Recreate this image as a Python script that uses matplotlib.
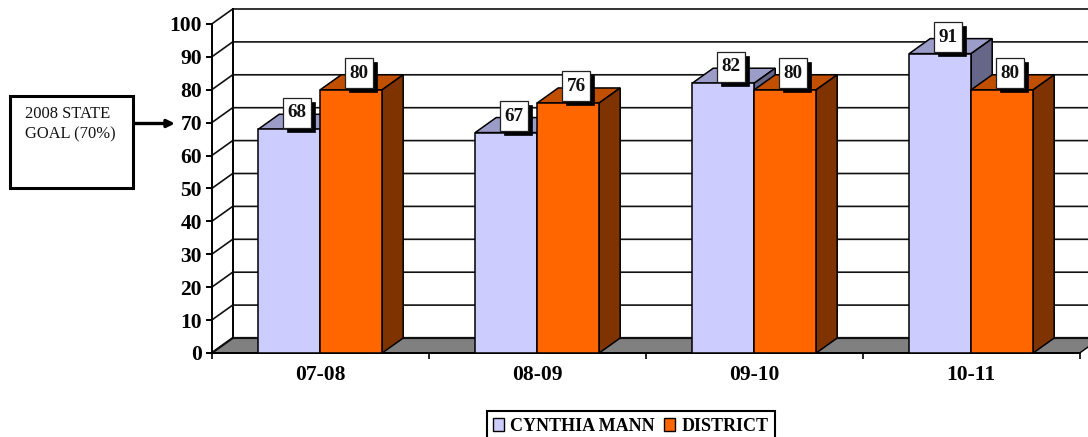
import matplotlib
matplotlib.use('Agg')
import matplotlib.pyplot as plt
from matplotlib.patches import Polygon, Rectangle

plt.rcParams['font.family'] = ['Liberation Serif', 'DejaVu Serif']

years = ['07-08', '08-09', '09-10', '10-11']
series_names = ['CYNTHIA MANN', 'DISTRICT']
cynthia = [68, 67, 82, 91]
district = [80, 76, 80, 80]
yticks = [0, 10, 20, 30, 40, 50, 60, 70, 80, 90, 100]

W, H = 1088, 437
LAV = ['#CCCCFF', '#9C9CC8', '#666688']
ORG = ['#FF6600', '#C04F00', '#7F3300']
xpx = 217  # pixels per category
ypx = 3.29  # pixels per value unit
bw = 62 / xpx
dx = 21 / xpx
dy = 15 / ypx

fig = plt.figure(figsize=(W / 100, H / 100), dpi=100)
ax = fig.add_axes([211.7 / W, 1 - 353 / H, 868 / W, 329 / H])
ax.set_xlim(0, 4)
ax.set_ylim(0, 100)
ax.patch.set_alpha(0)

# floor and back wall
ax.add_patch(Polygon([(0, 0), (dx, dy), (4 + dx, dy), (4, 0)], fc='#808080', ec='black', lw=1, clip_on=False, zorder=1))
for v in yticks:
    ax.plot([0, dx, 4.2], [v, v + dy, v + dy], color='#111111', lw=1.2 if v else 1.6, clip_on=False, zorder=1.5, solid_joinstyle='miter')
ax.plot([dx, dx], [dy, 100 + dy], color='black', lw=1.4, clip_on=False, zorder=1.5)


def bar3d(x, val, cols, z):
    ax.bar(x, val, bw, align='edge', color=cols[0], edgecolor='black', linewidth=1.1, zorder=z + 0.2, clip_on=False)
    ax.add_patch(Polygon([(x, val), (x + dx, val + dy), (x + bw + dx, val + dy), (x + bw, val)],
                         fc=cols[1], ec='black', lw=1.1, clip_on=False, zorder=z))
    ax.add_patch(Polygon([(x + bw, 0), (x + bw + dx, dy), (x + bw + dx, val + dy), (x + bw, val)],
                         fc=cols[2], ec='black', lw=1.1, clip_on=False, zorder=z))


def label(x, val):
    # white value box with a hard black drop shadow, 28x30 px
    bx = x + bw / 2 + (8 - 14) / xpx
    by = val + 1.5 / ypx
    w = 28 / xpx
    h = 30 / ypx
    ax.add_patch(Rectangle((bx + 4 / xpx, by - 4 / ypx), w, h, fc='black', ec='black', lw=0.5, clip_on=False, zorder=10))
    ax.add_patch(Rectangle((bx, by), w, h, fc='white', ec='#222222', lw=0.9, clip_on=False, zorder=11))
    ax.text(bx + w / 2, by + h / 2, str(val), ha='center', va='center', fontsize=13.8, fontweight='bold',
            color='#111111', zorder=12, clip_on=False)


for i in range(len(years)):
    bar3d(i + 0.5 - bw, cynthia[i], LAV, 3 + i)
    bar3d(i + 0.5, district[i], ORG, 3.5 + i)
for i in range(len(years)):
    label(i + 0.5 - bw, cynthia[i])
    label(i + 0.5, district[i])

for s in ['top', 'right']:
    ax.spines[s].set_visible(False)
for s in ['left', 'bottom']:
    ax.spines[s].set_linewidth(1.4)
    ax.spines[s].set_zorder(2)
ax.spines['left'].set_bounds(0, 100)

ax.set_yticks(yticks)
ax.set_yticklabels(yticks, fontsize=15.5, fontweight='bold')
ax.set_xticks([0, 1, 2, 3, 4])
ax.set_xticklabels([])
ax.set_xticks([0.5, 1.5, 2.5, 3.5], minor=True)
ax.set_xticklabels(years, minor=True, fontsize=15.5, fontweight='bold')
ax.tick_params(axis='y', length=4, width=1.4, pad=3, direction='out')
ax.tick_params(axis='x', which='major', length=4, width=1.2)
ax.tick_params(axis='x', which='minor', length=0, pad=9)

# legend
handles = [Rectangle((0, 0), 1, 1, fc=LAV[0], ec='black', lw=1), Rectangle((0, 0), 1, 1, fc=ORG[0], ec='black', lw=1)]
leg = fig.legend(handles, series_names, loc='lower left', bbox_to_anchor=(487 / W, -4 / H), ncol=2, fancybox=False,
                 framealpha=1, edgecolor='black', borderaxespad=0, handlelength=0.6, handleheight=0.75, handletextpad=0.35,
                 columnspacing=0.5, borderpad=0.35, prop={'size': 13, 'weight': 'bold'})
leg.get_frame().set_linewidth(1.5)

# state goal callout
fig.add_artist(Rectangle((9.5 / W, 1 - 187.5 / H), 123 / W, 92 / H, transform=fig.transFigure, fc='white', ec='black', lw=2.2))
fig.text(25 / W, 1 - 124 / H, '2008 STATE\nGOAL (70%)', fontsize=11.9, color='#111111', ha='left', va='center', linespacing=1.35)
ax.annotate('', xy=(175 / W, 1 - 123.5 / H), xytext=(132 / W, 1 - 123.5 / H), xycoords='figure fraction', textcoords='figure fraction',
            arrowprops=dict(arrowstyle='-|>,head_length=0.45,head_width=0.22', color='black', lw=2.4, shrinkA=0, shrinkB=0))

fig.savefig('out.png', dpi=100)
